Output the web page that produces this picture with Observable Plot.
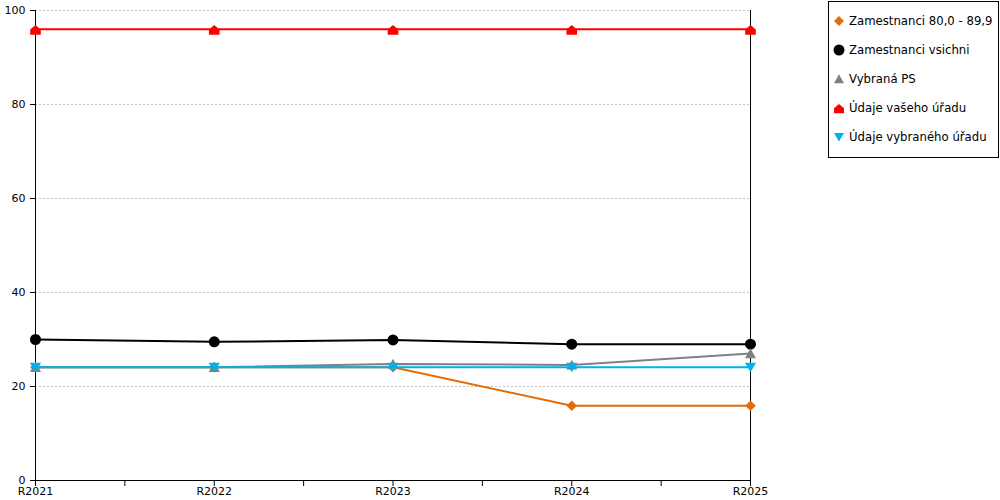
<!DOCTYPE html>
<html>
<head>
<meta charset="utf-8">
<script src="https://cdn.jsdelivr.net/npm/d3@7"></script>
<script src="https://cdn.jsdelivr.net/npm/@observablehq/plot@0.6"></script>
<style>
  html, body { margin: 0; padding: 0; background: #fff; }
  #wrap { position: relative; width: 1000px; height: 500px; }
  #legend {
    position: absolute; left: 828px; top: 1px; width: 169px; height: 151px;
    border: 1px solid #000; background: #fff; padding-top: 4px; box-sizing: content-box;
    font-family: "DejaVu Sans", sans-serif; font-size: 11.7px; color: #000;
  }
  #legend .item { height: 29px; display: flex; align-items: center; }
  #legend svg { margin-left: 4px; margin-right: 4px; flex: none; }
</style>
</head>
<body>
<div id="wrap"><div id="chart"></div><div id="legend"></div></div>
<script>
const categories = ["R2021", "R2022", "R2023", "R2024", "R2025"];
const seriesNames = ["Zamestnanci 80,0 - 89,9", "Zamestnanci vsichni", "Vybraná PS", "Údaje vašeho úřadu", "Údaje vybraného úřadu"];
const zamestnanci80 = [24.1, 24.1, 24.1, 15.9, 15.9];
const zamestnanciVsichni = [30.0, 29.5, 29.9, 29.0, 29.0];
const vybranaPS = [24.1, 24.1, 24.8, 24.6, 27.0];
const udajeVasehoUradu = [96, 96, 96, 96, 96];
const udajeVybranehoUradu = [24.1, 24.1, 24.1, 24.1, 24.1];
const seriesColors = ["#E46C0A", "#000000", "#808080", "#FF0000", "#00B0F0"];
const yTicks = [0, 20, 40, 60, 80, 100];

const seriesValues = [zamestnanci80, zamestnanciVsichni, vybranaPS, udajeVasehoUradu, udajeVybranehoUradu];

// custom marker shapes (polygon point lists in units of the marker radius)
function polySymbol(pts) {
  return {
    draw(ctx, size) {
      const r = Math.sqrt(size / Math.PI);
      pts.forEach(([x, y], i) => i ? ctx.lineTo(x * r, y * r) : ctx.moveTo(x * r, y * r));
      ctx.closePath();
    }
  };
}
const diamondShape = [[0, -1], [1, 0], [0, 1], [-1, 0]];
const triUpShape = [[0, -0.95], [1, 0.85], [-1, 0.85]];
const triDownShape = [[-1, -0.8], [1, -0.8], [0, 0.9]];
const houseShape = [[-1, 1.05], [1, 1.05], [1, 0.05], [0, -0.8], [-1, 0.05]];
const circleSym = d3.symbolCircle;
const symbols = [polySymbol(diamondShape), circleSym, polySymbol(triUpShape), polySymbol(houseShape), polySymbol(triDownShape)];
const shapesForLegend = [diamondShape, null, triUpShape, houseShape, triDownShape];

const rows = [];
seriesNames.forEach((name, s) => {
  categories.forEach((c, i) => rows.push({series: name, s, xi: i, value: seriesValues[s][i]}));
});

const xTickVals = d3.range(0, categories.length - 0.75, 0.5);

const marks = [
  Plot.gridY(yTicks.filter(d => d > 0), {stroke: "#c4c4c4", strokeOpacity: 1, strokeDasharray: "2,2"}),
  Plot.axisY({ticks: yTicks, tickSize: 5, tickPadding: 5, label: null, fontSize: 11}),
  Plot.axisX({ticks: xTickVals, tickSize: 6, tickPadding: 1, label: null, fontSize: 11,
    tickFormat: d => Number.isInteger(d) ? categories[d] : ""}),
  Plot.ruleX([0], {stroke: "#000"}),
  Plot.ruleX([categories.length - 1], {stroke: "#000"}),
  Plot.ruleY([0], {stroke: "#000"})
];
const sizes = [5.3, 5.5, 5.5, 5.3, 5.6];
seriesNames.forEach((name, s) => {
  const d = rows.filter(r => r.s === s);
  marks.push(Plot.line(d, {x: "xi", y: "value", stroke: seriesColors[s], strokeWidth: 2}));
  marks.push(Plot.dot(d, {x: "xi", y: "value", fill: seriesColors[s], stroke: "none",
    symbol: () => symbols[s], r: sizes[s]}));
});

const chart = Plot.plot({
  width: 1000,
  height: 500,
  marginLeft: 35,
  marginRight: 250,
  marginTop: 10,
  marginBottom: 20,
  x: {type: "linear", domain: [0, categories.length - 1]},
  y: {domain: [0, 100]},
  symbol: {type: "identity"},
  style: {fontFamily: "DejaVu Sans, sans-serif", fontSize: "11px", color: "#000", background: "#fff"},
  marks
});
document.getElementById("chart").appendChild(chart);

// legend
const legend = document.getElementById("legend");
seriesNames.forEach((name, s) => {
  const item = document.createElement("div");
  item.className = "item";
  const r = 5;
  let shape;
  if (shapesForLegend[s]) {
    const pts = shapesForLegend[s].map(([x, y]) => `${6 + x * r},${6 + y * r}`).join(" ");
    shape = `<polygon points="${pts}" fill="${seriesColors[s]}"/>`;
  } else {
    shape = `<circle cx="6" cy="6" r="5.5" fill="${seriesColors[s]}"/>`;
  }
  item.innerHTML = `<svg width="12" height="12">${shape}</svg><span></span>`;
  item.querySelector("span").textContent = name;
  legend.appendChild(item);
});
</script>
</body>
</html>
